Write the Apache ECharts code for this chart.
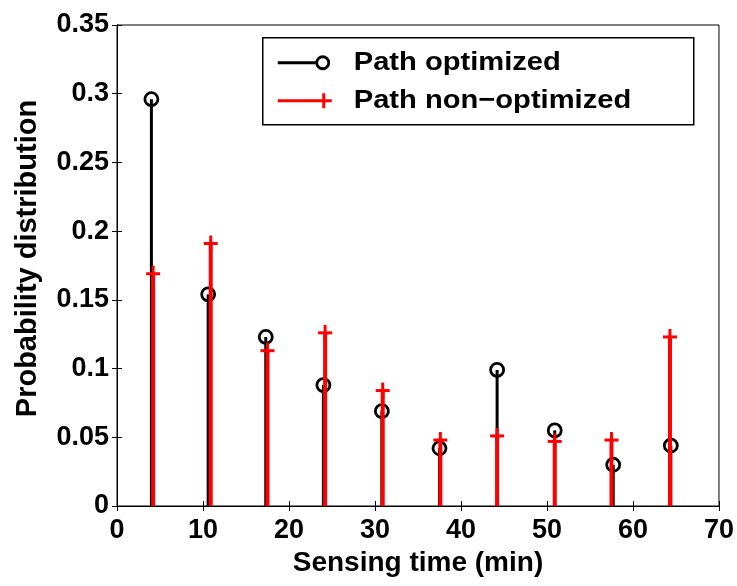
<!DOCTYPE html>
<html>
<head>
<meta charset="utf-8">
<script src="https://cdn.jsdelivr.net/npm/echarts@6/dist/echarts.min.js"></script>
<style>
  html, body { margin: 0; padding: 0; background: #fff; }
  #chart { width: 737px; height: 586px; }
</style>
</head>
<body>
<div id="chart"></div>
<script>
// sensing time bins (min) and probabilities
const optTime = [4.0, 10.6, 17.3, 24.0, 30.8, 37.5, 44.2, 50.9, 57.7, 64.4];
const optProb = [0.296, 0.154, 0.123, 0.088, 0.069, 0.042, 0.099, 0.055, 0.030, 0.044];
const nonTime = [4.2, 10.9, 17.5, 24.2, 30.9, 37.6, 44.2, 50.9, 57.5, 64.3];
const nonProb = [0.169, 0.191, 0.113, 0.126, 0.084, 0.048, 0.051, 0.047, 0.048, 0.123];
const legendNames = ['Path optimized', 'Path non\u2212optimized'];

const font = '"Liberation Sans", Arial, sans-serif';

function stemSeries(name, xs, ys, color, width, marker) {
  return {
    name: name,
    type: 'custom',
    data: xs.map((x, i) => [x, ys[i]]),
    renderItem: function (params, api) {
      const top = api.coord([api.value(0), api.value(1)]);
      const base = api.coord([api.value(0), 0]);
      const kids = [{
        type: 'line',
        shape: { x1: base[0], y1: base[1], x2: top[0], y2: top[1] },
        style: { stroke: color, lineWidth: width }
      }];
      if (marker === 'circle') {
        kids.push({
          type: 'circle',
          shape: { cx: top[0], cy: top[1], r: 6.5 },
          style: { fill: 'none', stroke: color, lineWidth: 2.8 }
        });
      } else {
        kids.push({
          type: 'line',
          shape: { x1: top[0] - 7, y1: top[1], x2: top[0] + 7, y2: top[1] },
          style: { stroke: color, lineWidth: 3 }
        });
        kids.push({
          type: 'line',
          shape: { x1: top[0], y1: top[1] - 8, x2: top[0], y2: top[1] + 8 },
          style: { stroke: color, lineWidth: 3 }
        });
      }
      return { type: 'group', children: kids };
    }
  };
}

const chart = echarts.init(document.getElementById('chart'));
const axisStyle = { lineStyle: { color: '#000', width: 1 } };
const tickStyle = { inside: true, length: 5, lineStyle: { color: '#000' } };
const labelStyle = { color: '#000', fontFamily: font, fontWeight: 'bold', fontSize: 27 };
const nameStyle = { color: '#000', fontFamily: font, fontWeight: 'bold', fontSize: 28 };

chart.setOption({
  backgroundColor: '#fff',
  animation: false,
  grid: { left: 117, right: 15, top: 25, bottom: 80, show: true, borderColor: '#000', borderWidth: 1 },
  xAxis: [{
    type: 'value', min: 0, max: 70, interval: 10,
    axisLine: axisStyle,
    axisTick: tickStyle,
    splitLine: { show: false },
    axisLabel: Object.assign({ margin: 11 }, labelStyle),
    name: 'Sensing time (min)',
    nameLocation: 'middle',
    nameGap: 41,
    nameTextStyle: nameStyle
  }, {
    type: 'value', min: 0, max: 70, interval: 10, position: 'top',
    axisLine: axisStyle,
    axisTick: tickStyle,
    splitLine: { show: false },
    axisLabel: { show: false }
  }],
  yAxis: [{
    type: 'value', min: 0, max: 0.35, interval: 0.05,
    axisLine: axisStyle,
    axisTick: tickStyle,
    splitLine: { show: false },
    axisLabel: Object.assign({ margin: 8, padding: [0, 0, 10, 0] }, labelStyle),
    name: 'Probability distribution',
    nameLocation: 'middle',
    nameGap: 75,
    nameTextStyle: Object.assign({ padding: [0, 0, 0, 14] }, nameStyle, { fontSize: 29 })
  }, {
    type: 'value', min: 0, max: 0.35, interval: 0.05, position: 'right',
    axisLine: axisStyle,
    axisTick: tickStyle,
    splitLine: { show: false },
    axisLabel: { show: false }
  }],
  series: [
    stemSeries(legendNames[0], optTime, optProb, '#000', 3, 'circle'),
    stemSeries(legendNames[1], nonTime, nonProb, '#ff0000', 4, 'plus')
  ],
  graphic: [{
    type: 'group', left: 262, top: 37, z: 100,
    children: [
      { type: 'rect', shape: { x: 0, y: 0, width: 431, height: 87 },
        style: { fill: '#fff', stroke: '#000', lineWidth: 1.5 } },
      { type: 'line', shape: { x1: 15, y1: 25, x2: 54, y2: 25 }, style: { stroke: '#000', lineWidth: 3 } },
      { type: 'circle', shape: { cx: 60, cy: 25, r: 6 }, style: { fill: 'none', stroke: '#000', lineWidth: 2.8 } },
      { type: 'text', x: 91, y: 25, scaleX: 1.12,
        style: { text: legendNames[0], fill: '#000', font: 'bold 26px ' + font, verticalAlign: 'middle' } },
      { type: 'line', shape: { x1: 15, y1: 63, x2: 69, y2: 63 }, style: { stroke: '#ff0000', lineWidth: 3 } },
      { type: 'line', shape: { x1: 61, y1: 55.5, x2: 61, y2: 70.5 }, style: { stroke: '#ff0000', lineWidth: 3 } },
      { type: 'text', x: 91, y: 63, scaleX: 1.12,
        style: { text: legendNames[1], fill: '#000', font: 'bold 26px ' + font, verticalAlign: 'middle' } }
    ]
  }]
});
</script>
</body>
</html>
